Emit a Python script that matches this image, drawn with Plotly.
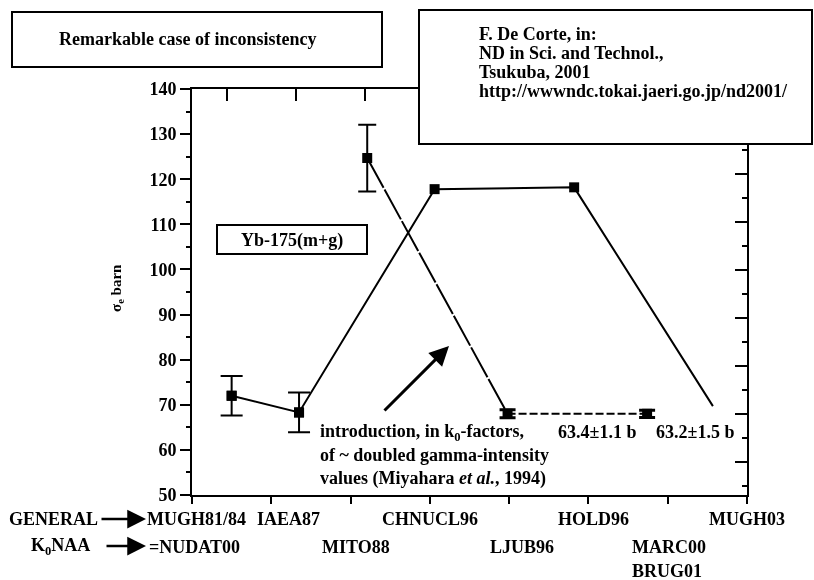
import plotly.graph_objects as go

FONT = "Liberation Serif"

# ---------------- data ----------------
general_labels = ["MUGH81/84", "IAEA87", "CHNUCL96", "HOLD96", "MUGH03"]
general_x = [0.50, 1.35, 3.06, 4.82, 6.57]
general_y = [72.0, 68.3, 117.8, 118.2, 69.7]
general_err = [4.4, 4.4, 0.0, 0.0, 0.0]
general_marker = [True, True, True, True, False]

k0_labels = ["=NUDAT00", "MITO88", "LJUB96", "MARC00", "BRUG01"]
k0_x = [2.21, 3.98, 5.74]
k0_y = [124.7, 68.0, 68.0]
k0_err = [7.4, 0.9, 0.8]

y_range = [50, 140]
y_ticks = [50, 60, 70, 80, 90, 100, 110, 120, 130, 140]
top_ticks = [1, 2, 3, 4, 5, 6, 7, 8]

# ---------------- geometry helpers ----------------
W, H = 814, 580
L, R, T, B = 192, 67, 89, 85
PW, PH = W - L - R, H - T - B


def px(p):
    return (p - L) / PW


def py(p):
    return (H - B - p) / PH


fig = go.Figure()

# solid line through the "general" sequence
fig.add_trace(go.Scatter(x=general_x, y=general_y, mode="lines",
                         line=dict(color="black", width=2), hoverinfo="skip"))
# k0 sequence: MITO88 -> LJUB96 (long dashes) then LJUB96 -> MARC00 (dashed)
fig.add_trace(go.Scatter(x=k0_x[:2], y=k0_y[:2], mode="lines",
                         line=dict(color="black", width=2, dash="34px,2px"), hoverinfo="skip"))
fig.add_trace(go.Scatter(x=k0_x[1:], y=k0_y[1:], mode="lines",
                         line=dict(color="black", width=2, dash="8px,3px"), hoverinfo="skip"))

# markers with error bars
gx = [x for x, m in zip(general_x, general_marker) if m]
gy = [y for y, m in zip(general_y, general_marker) if m]
ge = [e for e, m in zip(general_err, general_marker) if m]
ex = [x for x, e in zip(gx, ge) if e > 0]
ey = [y for y, e in zip(gy, ge) if e > 0]
ee = [e for e in ge if e > 0]
fig.add_trace(go.Scatter(x=ex, y=ey, mode="markers",
                         marker=dict(symbol="square", size=10, color="black"),
                         error_y=dict(type="data", array=ee, color="black", thickness=2, width=11),
                         hoverinfo="skip"))
fig.add_trace(go.Scatter(x=gx, y=gy, mode="markers",
                         marker=dict(symbol="square", size=10, color="black"), hoverinfo="skip"))
fig.add_trace(go.Scatter(x=k0_x[:1], y=k0_y[:1], mode="markers",
                         marker=dict(symbol="square", size=10, color="black"),
                         error_y=dict(type="data", array=k0_err[:1], color="black", thickness=2, width=9),
                         hoverinfo="skip"))
fig.add_trace(go.Scatter(x=k0_x[1:], y=k0_y[1:], mode="markers",
                         marker=dict(symbol="square", size=10, color="black"),
                         error_y=dict(type="data", array=k0_err[1:], color="black", thickness=3, width=8),
                         hoverinfo="skip"))
# invisible trace for the secondary (top/right) axes
fig.add_trace(go.Scatter(x=[1, 8], y=[10, 80], mode="markers", opacity=0,
                         xaxis="x2", yaxis="y2", hoverinfo="skip"))

ann = []


def text(t, x, y, size=18, xanchor="center", yanchor="middle", **kw):
    ann.append(dict(text="<b>" + t + "</b>", x=px(x), y=py(y), xref="paper", yref="paper",
                    xanchor=xanchor, yanchor=yanchor, showarrow=False,
                    font=dict(family=FONT, size=size, color="black"), **kw))


def arrow(x0, y0, x1, y1, width=2, size=1.0):
    ann.append(dict(text="", x=px(x1), y=py(y1), xref="paper", yref="paper",
                    ax=x0 - x1, ay=y0 - y1, axref="pixel", ayref="pixel",
                    showarrow=True, arrowhead=2, arrowsize=size, arrowwidth=width,
                    arrowcolor="black", standoff=0, startstandoff=0))


# boxed texts
text("Remarkable case of inconsistency", 187, 39, size=18)
text("Yb-175(m+g)", 292, 240, size=18)
for i, line in enumerate(["F. De Corte, in:", "ND in Sci. and Technol.,", "Tsukuba, 2001",
                          "http://wwwndc.tokai.jaeri.go.jp/nd2001/"]):
    text(line, 477, 34 + 19 * i, size=18, xanchor="left")

# in-plot notes
notes = ["introduction, in k<sub>0</sub>-factors,", "of ~ doubled gamma-intensity",
         "values (Miyahara <i>et al.</i>, 1994)"]
for i, line in enumerate(notes):
    text(line, 318, 432 + 23 * i, size=18, xanchor="left")
text("63.4±1.1 b", 597, 432, size=18)
text("63.2±1.5 b", 695, 432, size=18)

# y-axis title
text("σ<sub>e</sub> barn", 117, 288, size=15, textangle=-90)

# category labels
row1_x = [196, 288, 430, 593, 747]
for lab, x in zip(general_labels, row1_x):
    text(lab, x, 519)
row2_x = [194, 356, 522, 669, 667]
row2_y = [547, 547, 547, 547, 571]
for lab, x, y in zip(k0_labels, row2_x, row2_y):
    text(lab, x, y)
text("GENERAL", 100, 519, xanchor="right")
text("K<sub>0</sub>NAA", 60, 546)
arrow(100, 519, 146, 519, width=2.5, size=1.5)
arrow(105, 546, 146, 546, width=2.5, size=1.5)

# big arrow inside plot
arrow(383, 412, 449, 346, width=3, size=1.3)

shapes = [
    dict(type="rect", xref="paper", yref="paper", x0=px(12), x1=px(382), y0=py(12), y1=py(67),
         line=dict(color="black", width=2), fillcolor="white", layer="above"),
    dict(type="rect", xref="paper", yref="paper", x0=px(419), x1=px(812), y0=py(10), y1=py(144),
         line=dict(color="black", width=2), fillcolor="white", layer="above"),
    dict(type="rect", xref="paper", yref="paper", x0=px(217), x1=px(367), y0=py(225), y1=py(254),
         line=dict(color="black", width=2), fillcolor="white", layer="above"),
]

axis_common = dict(showgrid=False, zeroline=False, showline=True, linecolor="black",
                   linewidth=2, tickcolor="black", tickwidth=2)

fig.update_layout(
    width=W, height=H, autosize=False,
    margin=dict(l=L, r=R, t=T, b=B, pad=0),
    paper_bgcolor="white", plot_bgcolor="white",
    showlegend=False,
    font=dict(family=FONT, size=18, color="black"),
    xaxis=dict(range=[0, 7], tickmode="linear", tick0=0, dtick=1, ticks="outside",
               ticklen=7, showticklabels=False, **axis_common),
    yaxis=dict(range=y_range, tickmode="array", tickvals=y_ticks,
               ticktext=["<b>%d</b>" % v for v in y_ticks], ticks="outside", ticklen=10,
               tickfont=dict(family=FONT, size=18, color="black"),
               minor=dict(dtick=5, ticks="outside", ticklen=4, tickcolor="black", tickwidth=2),
               **axis_common),
    xaxis2=dict(overlaying="x", side="top", anchor="y2", range=[0.4928, 8.536],
                tickmode="array", tickvals=top_ticks, ticktext=["" for _ in top_ticks],
                ticks="inside", ticklen=12, showticklabels=True, **axis_common),
    yaxis2=dict(overlaying="y", side="right", anchor="x2", range=[3.125, 87.71], tickmode="linear",
                tick0=0, dtick=10, ticks="inside", ticklen=12, showticklabels=False,
                minor=dict(dtick=5, ticks="inside", ticklen=5, tickcolor="black", tickwidth=2),
                **axis_common),
    annotations=ann,
    shapes=shapes,
)

fig.write_html("out.html", config={"displayModeBar": False},
               post_script="document.body.style.margin='0px';")
